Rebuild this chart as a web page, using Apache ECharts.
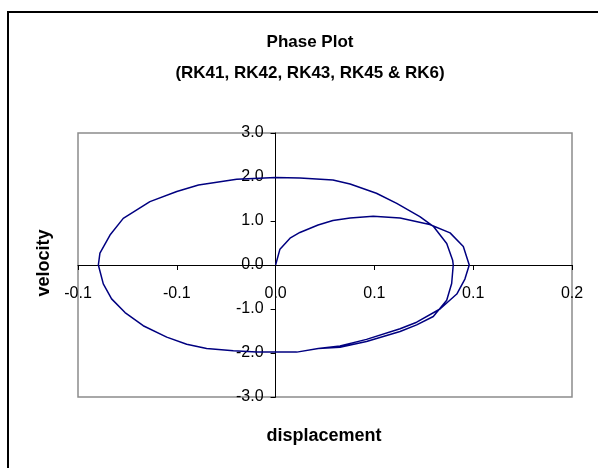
<!DOCTYPE html>
<html>
<head>
<meta charset="utf-8">
<script src="https://cdn.jsdelivr.net/npm/echarts@6/dist/echarts.min.js"></script>
<style>
  html, body { margin: 0; padding: 0; background: #fff; }
  #chart { width: 598px; height: 468px; }
</style>
</head>
<body>
<div id="chart"></div>
<script>
/* -------------------------------------------------------------------------- */
/*                     Phase plot: displacement vs velocity                   */
/* -------------------------------------------------------------------------- */

// in drawing order (starts at rest at the origin)
const displacement = [
  0, 0.0022, 0.0073, 0.0123, 0.0215, 0.029, 0.0377, 0.0494, 0.063, 0.078,
  0.0883, 0.095, 0.098, 0.0958, 0.0917, 0.0832, 0.0714, 0.063, 0.046, 0.0326,
  0.0216, 0.0107, -0.0096, -0.0214, -0.0349, -0.045, -0.0551, -0.067, -0.0762,
  -0.083, -0.0872, -0.0897, -0.0889, -0.0838, -0.0771, -0.0636, -0.05, -0.039,
  -0.0197, 0, 0.0123, 0.029, 0.0377, 0.051, 0.0613, 0.073, 0.08, 0.0866,
  0.0896, 0.0899, 0.0891, 0.0866, 0.0798, 0.0714, 0.063, 0.046, 0.0326, 0.0216
];
const velocity = [
  0, 0.36, 0.61, 0.74, 0.91, 1.01, 1.07, 1.11, 1.07, 0.92,
  0.73, 0.42, 0, -0.32, -0.66, -1.0, -1.3, -1.45, -1.69, -1.84,
  -1.9, -1.98, -1.98, -1.95, -1.9, -1.8, -1.64, -1.38, -1.08,
  -0.77, -0.43, 0, 0.27, 0.68, 1.06, 1.44, 1.67, 1.82,
  1.95, 1.99, 1.98, 1.93, 1.84, 1.63, 1.4, 1.1, 0.87, 0.49,
  0.11, 0, -0.42, -0.8, -1.17, -1.36, -1.51, -1.74, -1.87, -1.9
];
const xTickLabels = ['-0.1', '-0.1', '0.0', '0.1', '0.1', '0.2'];
const yTickLabels = ['-3.0', '-2.0', '-1.0', '0.0', '1.0', '2.0', '3.0'];

const fontFamily = '"Liberation Sans", Arial, sans-serif';
const chart = echarts.init(document.getElementById('chart'));

// plot box, in pixels
const plot = { left: 78, right: 572, top: 133, bottom: 397 };
const xMin = -0.1;
const xMax = 0.15;
const yMin = -3;
const yMax = 3;
// axes cross at zero, like the spreadsheet chart: shift them in from the edges
const yAxisShift = ((0 - xMin) / (xMax - xMin)) * (plot.right - plot.left);
const xAxisShift = ((0 - yMin) / (yMax - yMin)) * (plot.bottom - plot.top);

chart.setOption({
  animation: false,
  backgroundColor: '#fff',
  title: {
    text: 'Phase Plot\n(RK41, RK42, RK43, RK45 & RK6)',
    left: 305,
    top: 22,
    textAlign: 'center',
    textStyle: {
      color: '#000',
      fontFamily,
      fontWeight: 'bold',
      fontSize: 17,
      lineHeight: 31
    }
  },
  graphic: [
    {
      // outer chart frame (only the top and left edges show)
      type: 'polyline',
      shape: { points: [[8, 470], [8, 12], [600, 12]] },
      style: { stroke: '#000', lineWidth: 2, fill: null },
      silent: true
    },
    {
      type: 'text',
      x: 324,
      y: 436,
      style: {
        text: 'displacement',
        fill: '#000',
        font: `bold 18px ${fontFamily}`,
        textAlign: 'center',
        textVerticalAlign: 'middle'
      }
    },
    {
      type: 'text',
      x: 44,
      y: 263,
      rotation: Math.PI / 2,
      style: {
        text: 'velocity',
        fill: '#000',
        font: `bold 18px ${fontFamily}`,
        textAlign: 'center',
        textVerticalAlign: 'middle'
      }
    }
  ],
  grid: {
    left: plot.left,
    right: 598 - plot.right,
    top: plot.top,
    bottom: 468 - plot.bottom,
    show: true,
    borderColor: '#8c8c8c',
    borderWidth: 1.5,
    backgroundColor: '#fff'
  },
  xAxis: {
    type: 'value',
    min: xMin,
    max: xMax,
    interval: 0.05,
    position: 'bottom',
    offset: -xAxisShift,
    axisLine: { onZero: false, lineStyle: { color: '#000', width: 1 } },
    axisTick: { show: true, inside: false, length: 5, lineStyle: { color: '#000' } },
    axisLabel: {
      margin: 21,
      color: '#000',
      fontFamily,
      fontSize: 16,
      formatter: (value, index) => xTickLabels[index]
    },
    splitLine: { show: false }
  },
  yAxis: {
    type: 'value',
    min: yMin,
    max: yMax,
    interval: 1,
    position: 'left',
    offset: -yAxisShift,
    axisLine: { onZero: false, lineStyle: { color: '#000', width: 1 } },
    axisTick: { show: true, inside: false, length: 5, lineStyle: { color: '#000' } },
    axisLabel: {
      margin: 12,
      color: '#000',
      fontFamily,
      fontSize: 16,
      formatter: (value, index) => yTickLabels[index]
    },
    splitLine: { show: false }
  },
  series: [
    {
      name: 'Phase',
      type: 'line',
      data: displacement.map((x, i) => [x, velocity[i]]),
      showSymbol: false,
      symbol: 'none',
      smooth: false,
      lineStyle: { color: '#000080', width: 1.5 },
      z: 3
    }
  ]
});
</script>
</body>
</html>
